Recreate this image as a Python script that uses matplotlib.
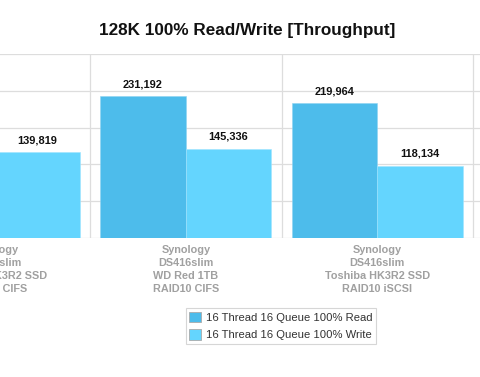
import matplotlib
matplotlib.use("Agg")
import matplotlib.pyplot as plt
import numpy as np

categories = [
    "Synology\nDS416slim\nToshiba HK3R2 SSD\nRAID10 CIFS",
    "Synology\nDS416slim\nWD Red 1TB\nRAID10 CIFS",
    "Synology\nDS416slim\nToshiba HK3R2 SSD\nRAID10 iSCSI",
]
read_vals = [245000, 231192, 219964]
write_vals = [139819, 145336, 118134]
series_names = ["16 Thread 16 Queue 100% Read", "16 Thread 16 Queue 100% Write"]
yticks = [0, 60000, 120000, 180000, 240000, 300000]

plt.rcParams['font.family'] = ['Liberation Sans', 'DejaVu Sans']

W, H = 480, 377
fig = plt.figure(figsize=(W / 100, H / 100), dpi=100)

unit = 191.5
left_px = 90 - unit  # x = -0.5
xmin, xmax = -0.5, 2.6
ax = fig.add_axes([left_px / W, (H - 238) / H, unit * (xmax - xmin) / W, 184 / H])

x = np.arange(len(categories))
bw = 0.447
c_read = "#4DBCEB"
c_write = "#64D5FE"
b1 = ax.bar(x - bw / 2, read_vals, bw, color=c_read, edgecolor="#8fd3f2", linewidth=0.4,
            label=series_names[0], zorder=3)
b2 = ax.bar(x + bw / 2, write_vals, bw, color=c_write, edgecolor="#a0e4ff", linewidth=0.4,
            label=series_names[1], zorder=3)

for rects, vals in ((b1, read_vals), (b2, write_vals)):
    for r, v in zip(rects, vals):
        ax.annotate(f"{v:,}", (r.get_x() + r.get_width() / 2, v), xytext=(0, 5),
                    textcoords="offset points", ha="center", va="bottom",
                    fontsize=7.9, fontweight="bold", color="#111111")

ax.set_xlim(xmin, xmax)
ax.set_ylim(0, 300000)
ax.set_yticks(yticks)
ax.set_yticklabels([])
ax.set_xticks(x)
ax.set_xticklabels(categories, fontsize=7.8, fontweight="bold", color="#a0a0a0",
                   linespacing=1.38)
ax.set_xticks([-0.5, 0.5, 1.5, 2.5], minor=True)
ax.tick_params(axis="both", which="both", length=0)
ax.tick_params(axis="x", pad=5)
ax.grid(axis="y", which="major", color="#dddddd", linewidth=0.9, zorder=0)
ax.grid(axis="x", which="minor", color="#dddddd", linewidth=0.9, zorder=0)
for s in ax.spines.values():
    s.set_visible(False)

fig.text(247.5 / W, 1 - 30 / H, "128K 100% Read/Write [Throughput]", ha="center", va="center",
         fontsize=12.3, fontweight="bold", color="#111111")

leg = fig.legend(handles=[b1, b2], loc="center", bbox_to_anchor=(281 / W, 1 - 326 / H),
                 fontsize=8.1, frameon=True, fancybox=False, edgecolor="#cccccc",
                 handlelength=1.05, handleheight=1.05, handletextpad=0.45,
                 borderpad=0.3, labelspacing=0.55, borderaxespad=0)
leg.get_frame().set_linewidth(0.8)
for t in leg.get_texts():
    t.set_color("#333333")
for p in leg.get_patches():
    p.set_edgecolor("#aaaaaa")
    p.set_linewidth(0.6)

fig.savefig("out.png", dpi=100)
